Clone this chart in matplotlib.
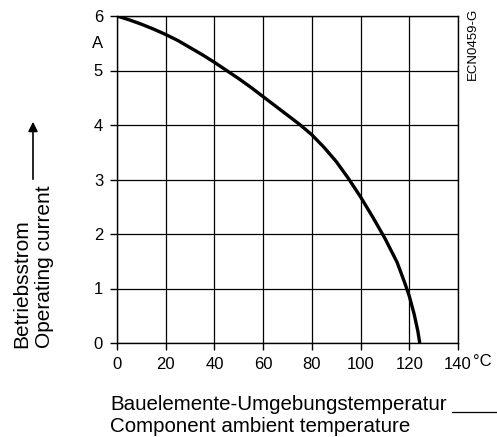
import matplotlib
matplotlib.use("Agg")
import matplotlib.pyplot as plt
import numpy as np

# Data
temperature = [0, 5, 10, 15, 20, 25, 30, 35, 40, 45, 50, 55, 60, 65, 70, 75, 80, 85, 90, 95,
               100, 105, 110, 115, 118, 120, 122, 123.5, 124.3]
current = [6.0, 5.93, 5.85, 5.76, 5.66, 5.55, 5.42, 5.29, 5.15, 5.00, 4.85, 4.69, 4.52, 4.35,
           4.18, 4.01, 3.82, 3.59, 3.33, 3.02, 2.68, 2.31, 1.92, 1.48, 1.12, 0.86, 0.53, 0.22, 0.0]
x_ticks = [0, 20, 40, 60, 80, 100, 120, 140]
y_ticks = [0, 1, 2, 3, 4, 5, 6]

plt.rcParams['font.family'] = ['Liberation Sans', 'DejaVu Sans']

W, H = 497, 437
fig = plt.figure(figsize=(W / 100, H / 100), dpi=100)
ax = fig.add_axes([117 / W, 1 - 343 / H, (458 - 117) / W, (343 - 16) / H])

ax.plot(temperature, current, color='black', lw=2.4, solid_capstyle='butt',
        solid_joinstyle='round', zorder=3)
ax.set_xlim(0, 140)
ax.set_ylim(0, 6)
ax.set_xticks(x_ticks)
ax.set_yticks(y_ticks)
ax.grid(True, color='black', lw=0.9)
for s in ax.spines.values():
    s.set_linewidth(1.0)
ax.tick_params(axis='both', length=5, width=1.0, direction='out', labelsize=12)
ax.tick_params(axis='x', pad=5)
ax.tick_params(axis='y', pad=5)

def fx(px):
    return px / W

def fy(py):
    return 1 - py / H

fig.text(fx(98), fy(44), 'A', fontsize=12, ha='center', va='center')
fig.text(fx(473), fy(362), '°C', fontsize=12, ha='left', va='center')

fig.text(fx(110), fy(410), 'Bauelemente-Umgebungstemperatur', fontsize=14.8, ha='left', va='baseline')
fig.text(fx(110), fy(432), 'Component ambient temperature', fontsize=14.8, ha='left', va='baseline')
fig.add_artist(plt.Line2D([fx(452), fx(497)], [fy(412), fy(412)], color='black', lw=0.9))

fig.text(fx(22), fy(348), 'Betriebsstrom', fontsize=15, rotation=90, ha='center', va='bottom')
fig.text(fx(45), fy(348), 'Operating current', fontsize=15, rotation=90, ha='center', va='bottom')
fig.add_artist(matplotlib.patches.FancyArrowPatch((fx(33), fy(182)), (fx(33), fy(119)),
                                                  transform=fig.transFigure, arrowstyle='-|>',
                                                  mutation_scale=14, color='black', lw=1.2))

fig.text(fx(473), fy(8), 'ECN0459-G', fontsize=9.5, rotation=90, ha='center', va='top')

fig.savefig('out.png', dpi=100)
